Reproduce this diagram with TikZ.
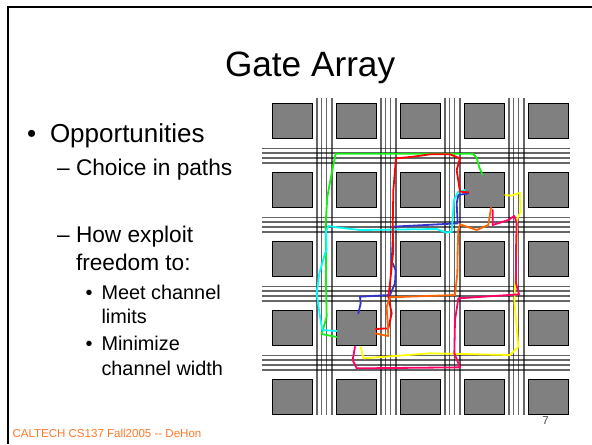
\documentclass[tikz,border=0pt]{standalone}
\usepackage{fontspec}
\setmainfont{Liberation Sans}
\definecolor{wgreen}{RGB}{20,240,20}
\definecolor{wcyan}{RGB}{0,255,255}
\definecolor{wred}{RGB}{255,0,0}
\definecolor{wblue}{RGB}{51,51,204}
\definecolor{worange}{RGB}{255,102,0}
\definecolor{wpink}{RGB}{255,0,102}
\definecolor{wyellow}{RGB}{255,255,0}
\definecolor{foot}{RGB}{255,120,40}
\tikzset{
  block/.style={fill=black!50,draw=black,line width=0.75pt},
  wire/.style={draw=black,draw opacity=.6,line width=0.9pt},
  route/.style={line width=1.35pt,line join=round,line cap=round},
  txt/.style={anchor=base west,inner sep=0pt,outer sep=0pt,align=left},
  fa/.style={font=\fontsize{19.5pt}{22pt}\selectfont},
  fb/.style={font=\fontsize{17pt}{20pt}\selectfont},
  fc/.style={font=\fontsize{14.9pt}{18pt}\selectfont},
}
\begin{document}
\begin{tikzpicture}[x=0.75pt,y=-0.75pt]
\useasboundingbox (0,0) rectangle (592,444);
\fill[white] (0,0) rectangle (592,444);
\draw[black,line width=1.5pt] (592,6.5) -- (7.5,6.5) -- (7.5,444);
\foreach \i in {0,...,3} \foreach \d in {0,4.8,9.7,15} {
  \draw[wire] ({317+64*\i+\d},98) -- ({317+64*\i+\d},414.5);
}
\foreach \j in {0,...,3} \foreach \d in {0,4.7,9.7,14.7} {
  \draw[wire] (262,{148.3+69*\j+\d}) -- (570,{148.3+69*\j+\d});
}
\foreach \i in {0,...,4} \foreach \j in {0,...,4} {
  \draw[block] ({272.5+64*\i},{103.8+69*\j}) rectangle ({312.5+64*\i},{138.3+69*\j});
}
\begin{scope}[x=0.25pt,y=-0.25pt,xshift=202.5pt,yshift=-67.5pt]
\draw[route,wgreen] (637,253)--(627,230)--(620,203)--(608,191)--(197,191)--(185,250)--(172,320)--(167,400)--(168,480)--(168,580)--(170,680)--(155,732)--(200,741);
\draw[route,wblue] (595,310)--(565,315)--(560,340)--(563,400)--(370,410)--(365,520)--(368,520)--(377,540)--(375,580)--(360,615)--(270,620)--(272,640)--(265,670);
\draw[route,wcyan] (585,300)--(565,305)--(552,330)--(545,425)--(530,428)--(500,417)--(270,420)--(200,412)--(175,408)--(168,425)--(170,480)--(165,490)--(148,550)--(140,610)--(150,680)--(157,720)--(200,723);
\draw[route,wred] (595,307)--(570,305)--(560,240)--(570,205)--(540,193)--(480,193)--(430,200)--(378,205)--(370,300)--(368,420)--(370,480)--(360,580)--(355,620)--(365,670)--(355,715)--(317,717);
\draw[route,worange] (663,353)--(655,405)--(620,420)--(570,403)--(565,420)--(563,480)--(562,550)--(555,615)--(360,622)--(350,650)--(355,738)--(315,730);
\draw[route,wyellow] (705,315)--(725,317)--(750,308)--(752,365)--(742,385)--(740,480)--(733,630)--(745,770)--(720,795)--(480,790)--(280,805)--(272,770);
\draw[route,wpink] (668,360)--(668,405)--(715,390)--(733,378)--(740,400)--(738,480)--(738,580)--(747,613)--(565,625)--(555,690)--(553,790)--(570,832)--(260,835)--(248,810)--(255,770);
\end{scope}
\node[txt,font=\fontsize{26.4pt}{30pt}\selectfont] (title) at (225,76.7) {Gate Array};
\node[txt,fa] (b1) at (27,142) {•};
\node[txt,fa] (t1) at (50,142) {Opportunities};
\node[txt,fb] (d1) at (57,175) {–};
\node[txt,fb] (t2) at (76,175) {Choice in paths};
\node[txt,fb] (d2) at (57,242) {–};
\node[txt,fb] (t3) at (76,242) {How exploit};
\node[txt,fb] (t4) at (76,270) {freedom to:};
\node[txt,fc] (b2) at (85.5,299) {•};
\node[txt,fc] (t5) at (101.5,299) {Meet channel};
\node[txt,fc] (t6) at (101.5,323) {limits};
\node[txt,fc] (b3) at (85.5,350.5) {•};
\node[txt,fc] (t7) at (101.5,350.5) {Minimize};
\node[txt,fc] (t8) at (101.5,375) {channel width};
\node[txt,font=\fontsize{8.65pt}{11pt}\selectfont,text=foot] (f) at (12.5,437.5) {CALTECH CS137 Fall2005 -{}- DeHon};
\node[txt,font=\fontsize{8.6pt}{11pt}\selectfont,text=black!70] (n) at (542.3,424) {7};
\end{tikzpicture}
\end{document}
